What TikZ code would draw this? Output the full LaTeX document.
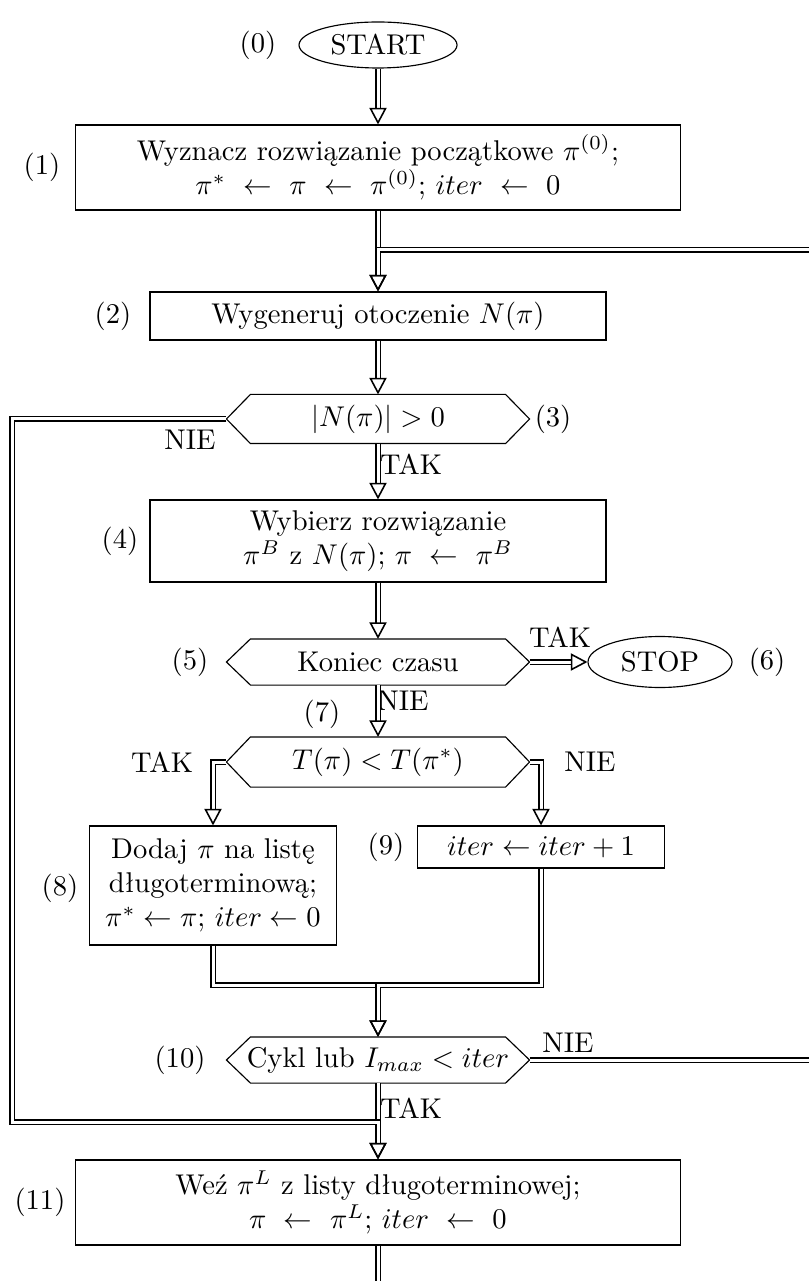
\documentclass[tikz,border=0pt]{standalone}
\usepackage{fontspec}
\usetikzlibrary{arrows.meta,shapes.geometric}
\newcommand\hexdraw[1]{\draw[line width=0.4pt] (#1.west) -- ([xshift=8.4pt]#1.north west) -- ([xshift=-8.4pt]#1.north east) -- (#1.east) -- ([xshift=-8.4pt]#1.south east) -- ([xshift=8.4pt]#1.south west) -- cycle;}
\begin{document}
\begin{tikzpicture}[x=0.35pt,y=-0.35pt,
  bw/.style={minimum width=#1*0.35pt},
  bh/.style={minimum height=#1*0.35pt},
  box/.style={draw, line width=0.4pt, rectangle, align=center, inner sep=0pt},
  hexa/.style={rectangle, align=center, inner sep=0pt},
  oval/.style={draw, line width=0.4pt, ellipse, inner sep=0pt},
  lbl/.style={inner sep=0pt},
  dbl/.style={draw, line width=0.65pt, double=white, double distance=1.05pt},
  dar/.style={dbl, -{Triangle[open, length=5.8pt, width=6pt, line width=0.55pt]}},
]
\useasboundingbox (0,0) rectangle (808,1281);

% nodes
\node[oval, bw=158, bh=46] (start) at (378,45) {START};
\node[lbl] (l0) at (258,45) {(0)};

\node[box, bw=605, bh=85] (b1) at (378,167.5) {Wyznacz rozwiązanie początkowe $\pi^{(0)}$;\\ $\pi^* \ \leftarrow\ \pi \ \leftarrow\ \pi^{(0)}$; $iter \ \leftarrow\ 0$};
\node[lbl] (l1) at (42,167) {(1)};

\node[box, bw=456, bh=48] (b2) at (378,316) {Wygeneruj otoczenie $N(\pi)$};
\node[lbl] (l2) at (113,316) {(2)};

\node[hexa, bw=302, bh=48] (h3) at (378,419) {$|N(\pi)| > 0$};
\hexdraw{h3}
\node[lbl] (l3) at (553,419) {(3)};
\node[lbl] (nie3) at (190,440) {NIE};
\node[lbl] (tak3) at (411,464) {TAK};

\node[box, bw=456, bh=82] (b4) at (378,541) {Wybierz rozwiązanie\\ $\pi^B$ z $N(\pi)$; $\pi \ \leftarrow\ \pi^B$};
\node[lbl] (l4) at (120,541) {(4)};

\node[hexa, bw=302, bh=45] (h5) at (378,662) {Koniec czasu};
\hexdraw{h5}
\node[lbl] (l5) at (190,662) {(5)};
\node[oval, bw=144, bh=51] (stop) at (660,662) {STOP};
\node[lbl] (l6) at (767,662) {(6)};
\node[lbl] (tak5) at (560,637) {TAK};
\node[lbl] (nie5) at (403,701) {NIE};
\node[lbl] (l7) at (322,714) {(7)};

\node[hexa, bw=302, bh=49] (h7) at (378,762) {$T(\pi) < T(\pi^*)$};
\hexdraw{h7}
\node[lbl] (tak7) at (162,762) {TAK};
\node[lbl] (nie7) at (590,762) {NIE};

\node[box, bw=247, bh=119] (b8) at (213,885.5) {Dodaj $\pi$ na listę\\ długoterminową;\\ $\pi^* \leftarrow \pi$; $iter \leftarrow 0$};
\node[lbl] (l8) at (60,888) {(8)};
\node[box, bw=247, bh=42] (b9) at (541,847) {$iter \leftarrow iter + 1$};
\node[lbl] (l9) at (386,847) {(9)};

\node[hexa, bw=302, bh=45] (h10) at (378,1060) {Cykl lub $I_{max} < iter$};
\hexdraw{h10}
\node[lbl] (l10) at (180,1060) {(10)};
\node[lbl] (nie10) at (568,1043) {NIE};
\node[lbl] (tak10) at (411,1108) {TAK};

\node[box, bw=605, bh=85] (b11) at (378,1202.5) {Weź $\pi^L$ z listy długoterminowej;\\ $\pi \ \leftarrow\ \pi^L$; $iter \ \leftarrow\ 0$};
\node[lbl] (l11) at (40,1202) {(11)};

% coordinates
\coordinate (rc1) at (822,1060);
\coordinate (rc2) at (822,250);
\coordinate (j2) at (378,250);
\coordinate (lc1) at (12,419);
\coordinate (lc2) at (12,1122);
\coordinate (j11) at (378,1122);
\coordinate (m) at (378,985);
\coordinate (bot) at (378,1296);

% connectors
\draw[dar] (start.south) -- (b1.north);
\draw[dar] (b1.south) -- (b2.north);
\draw[dar] (h10.east) -- (rc1) -- (rc2) -- (j2) -- (b2.north);
\draw[dar] (b2.south) -- (h3.north);
\draw[dar] (h3.south) -- (b4.north);
\draw[dar] (b4.south) -- (h5.north);
\draw[dar] (h5.east) -- (stop.west);
\draw[dar] (h5.south) -- (h7.north);
\draw[dar] (h7.west) -| (b8.north);
\draw[dar] (h7.east) -| (b9.north);
\draw[dar] (b8.south) |- (m) -- (h10.north);
\draw[dar] (b9.south) |- (m) -- (h10.north);
\draw[dar] (h10.south) -- (b11.north);
\draw[dar] (h3.west) -- (lc1) -- (lc2) -- (j11) -- (b11.north);
\draw[dbl] (b11.south) -- (bot);
\end{tikzpicture}
\end{document}
